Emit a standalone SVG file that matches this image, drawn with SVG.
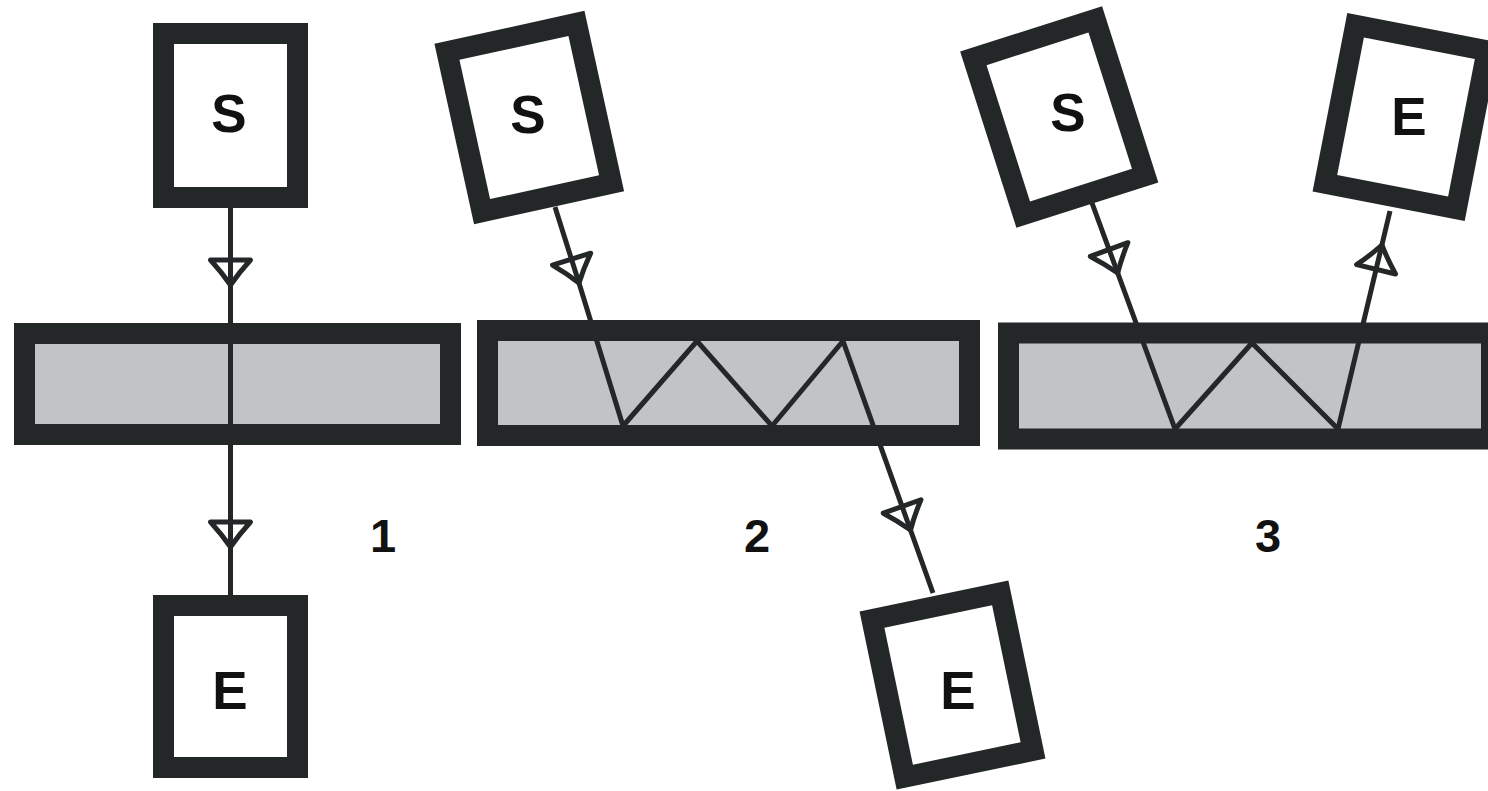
<svg xmlns="http://www.w3.org/2000/svg" width="1488" height="791" viewBox="0 0 1488 791">
  <style>
    .box { fill: #ffffff; stroke: #232728; stroke-width: 21; }
    .slab { fill: #c0c4c5; stroke: #232728; stroke-width: 21; }
    .ray { fill: none; stroke: #232728; stroke-width: 5; stroke-linejoin: miter; }
    .lbl { font-family: "Liberation Sans", Arial, sans-serif; font-weight: bold; font-size: 53px; fill: #111111; text-anchor: middle; }
    .num { font-family: "Liberation Sans", Arial, sans-serif; font-weight: bold; font-size: 47px; fill: #111111; text-anchor: middle; }
  </style>
  <defs>
    <!-- open triangular arrowhead, tip at the vertex it is placed on -->
    <marker id="head" markerUnits="userSpaceOnUse" viewBox="-30 -25 40 50" refX="0" refY="0" markerWidth="40" markerHeight="50" orient="auto" overflow="visible">
      <path d="M0 0 Q-13 -9 -25 -20 L-25 20 Q-13 9 0 0 Z" fill="none" stroke="#232728" stroke-width="5" stroke-linejoin="round"/>
    </marker>
  </defs>
  <rect width="1488" height="791" fill="#ffffff"/>

  <!-- slabs -->
  <g id="slab1"><rect class="slab" x="24.5" y="333.5" width="426" height="101"/></g>
  <g id="slab2"><rect class="slab" x="487.5" y="330.5" width="482" height="105"/></g>
  <g id="slab3"><rect class="slab" x="1008.5" y="333" width="483" height="106"/></g>

  <!-- rays -->
  <g id="connectors">
    <path class="ray" d="M230.5 208 L230.5 285 L230.5 547 L230.5 596" marker-mid="url(#head)"/>
    <path class="ray" d="M555 207 L579 283 L623 426" marker-mid="url(#head)"/>
    <path class="ray" d="M623 426 L697 341 L772 426 L843 341"/>
    <path class="ray" d="M843 341 L910.5 530 L933 593" marker-mid="url(#head)"/>
    <path class="ray" d="M1092 203 L1117.7 273 L1175 429" marker-mid="url(#head)"/>
    <path class="ray" d="M1175 429 L1252 343 L1338 429"/>
    <path class="ray" d="M1338 429 L1381.9 245 L1390 211" marker-mid="url(#head)"/>
  </g>

  <!-- panel 1 -->
  <g id="s1">
    <rect class="box" x="163.5" y="33.5" width="134" height="164"/>
    <text class="lbl" x="229" y="132">S</text>
  </g>
  <g id="e1">
    <rect class="box" x="163.5" y="605.5" width="134" height="162"/>
    <text class="lbl" x="230" y="709">E</text>
  </g>

  <!-- panel 2 -->
  <g id="s2">
    <rect class="box" x="-66.3" y="-81.8" width="132.6" height="163.6" transform="translate(529.25 117.5) rotate(-12.4)"/>
    <text class="lbl" x="528" y="133">S</text>
  </g>
  <g id="e2">
    <rect class="box" x="-65.5" y="-80.5" width="131" height="161" transform="translate(952.5 685) rotate(-11.75)"/>
    <text class="lbl" x="958" y="709">E</text>
  </g>

  <!-- panel 3 -->
  <g id="s3">
    <rect class="box" x="-64" y="-82" width="128" height="164" transform="translate(1059.25 117) rotate(-17.7)"/>
    <text class="lbl" x="1068" y="131">S</text>
  </g>
  <g id="e3">
    <rect class="box" x="-67" y="-80.5" width="134" height="161" transform="translate(1406 117) rotate(11)"/>
    <text class="lbl" x="1409" y="135">E</text>
  </g>

  <!-- panel numbers -->
  <g id="labels">
    <text class="num" x="383" y="552">1</text>
    <text class="num" x="757" y="552">2</text>
    <text class="num" x="1268" y="552">3</text>
  </g>
</svg>
